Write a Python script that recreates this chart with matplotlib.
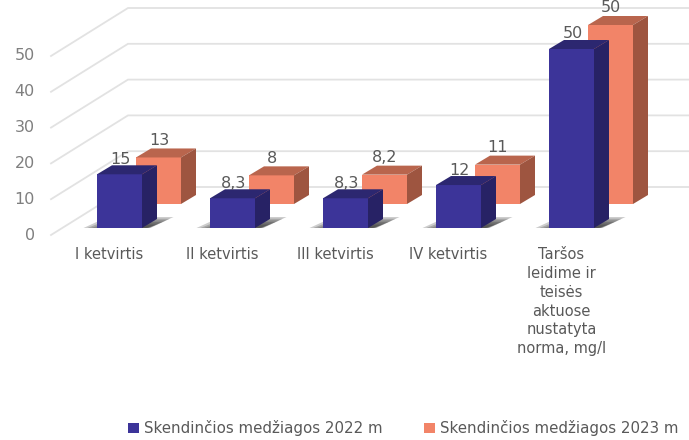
import matplotlib
matplotlib.use('Agg')
from matplotlib import pyplot
from matplotlib.patches import Polygon

categories = ['I ketvirtis','II ketvirtis','III ketvirtis','IV ketvirtis',
              'Taršos\nleidime ir\nteisės\naktuose\nnustatyta\nnorma, mg/l']
series_2022 = [15,8.3,8.3,12,50]
series_2023 = [13,8,8.2,11,50]
labels_2022 = ['15','8,3','8,3','12','50']
labels_2023 = ['13','8','8,2','11','50']
yticks = [0,10,20,30,40,50]
legend_names = ['Skendinčios medžiagos 2022 m','Skendinčios medžiagos 2023 m']

BLUE = ('#3c3499','#2c2770','#272265')
ORANGE = ('#f28468','#b9654d','#9e5540')
GREY = '#595959'

W,H = 689,440
UNIT_X = 113.    # px per category
UNIT_Y = 3.58    # px per value unit
X0,Y0 = 119.5,228.

# the axes fill the whole figure, x is category index and y is the value
def dx(px): return px/UNIT_X
def dy(px): return px/UNIT_Y

fig = pyplot.figure(figsize=(W/100.,H/100.),dpi=100)
ax = fig.add_axes([0,0,1,1])
ax.set_xlim(-X0/UNIT_X,(W-X0)/UNIT_X)
ax.set_ylim((Y0-H)/UNIT_Y,Y0/UNIT_Y)
ax.axis('off')

# grid, running back from the left ends to the back wall
for v in yticks:
    x0 = dx(51-X0)
    x1 = dx(128-X0)
    x2 = dx(W-X0)
    y0 = v + dy(-7)
    y1 = v + dy(41)
    ax.plot([x0,x1,x2],[y0,y1,y1],color='#e2e2e2',lw=1.3,zorder=1,solid_joinstyle='miter')
    ax.text(x0-dx(16),y0,str(v),ha='right',va='center',color='#7f7f7f',fontsize=11.5,family='DejaVu Sans')

def box(xc,base,v,colors,zorder):
    w = dx(22.5)
    ddx,ddy = dx(15),dy(9)
    left,right = xc-w,xc+w
    top = base+v
    ax.add_patch(Polygon([(left,base),(right,base),(right,top),(left,top)],fc=colors[0],ec='none',zorder=zorder))
    ax.add_patch(Polygon([(left,top),(right,top),(right+ddx,top+ddy),(left+ddx,top+ddy)],fc=colors[1],ec='none',zorder=zorder))
    ax.add_patch(Polygon([(right,base),(right+ddx,base+ddy),(right+ddx,top+ddy),(right,top)],fc=colors[2],ec='none',zorder=zorder))

def shadow(xc):
    # floor shadow, several layers to fake the soft edge
    for grow in [1.,.85,.7,.55,.4,.25]:
        pts = [(xc-dx(10)-dx(26)*grow,0),(xc+dx(25)+dx(6)*grow,0),
               (xc+dx(30)+dx(24)*grow,dy(11)*grow),(xc+dx(10)-dx(22)*grow,dy(11)*grow)]
        ax.add_patch(Polygon(pts,fc='#303030',ec='none',alpha=.24,zorder=3))

for i,(a,b) in enumerate(zip(series_2022,series_2023)):
    xb = i+dx(39)
    box(xb,dy(24),b,ORANGE,2)
    shadow(i)
    box(i,0,a,BLUE,4)
    ax.text(i+dx(1),a+dy(15),labels_2022[i],ha='center',va='center',color=GREY,fontsize=11.5,family='DejaVu Sans',zorder=5)
    ax.text(xb+dx(.5),dy(24)+b+dy(17),labels_2023[i],ha='center',va='center',color=GREY,fontsize=11.5,family='DejaVu Sans',zorder=5)
    ax.text(i-dx(10),dy(228-247),categories[i],ha='center',va='top',color=GREY,fontsize=10.5,
            family='DejaVu Sans',linespacing=1.32)

# legend
for name,colors,xs in zip(legend_names,[BLUE,ORANGE],[128,424]):
    yl = dy(228-428)
    ax.add_patch(Polygon([(dx(xs-X0),yl-dy(5)),(dx(xs+11-X0),yl-dy(5)),(dx(xs+11-X0),yl+dy(5)),(dx(xs-X0),yl+dy(5))],fc=colors[0],ec='none'))
    ax.text(dx(xs+16-X0),yl,name,ha='left',va='center',color=GREY,fontsize=10.8,family='DejaVu Sans')

fig.savefig('out.png',dpi=100)
